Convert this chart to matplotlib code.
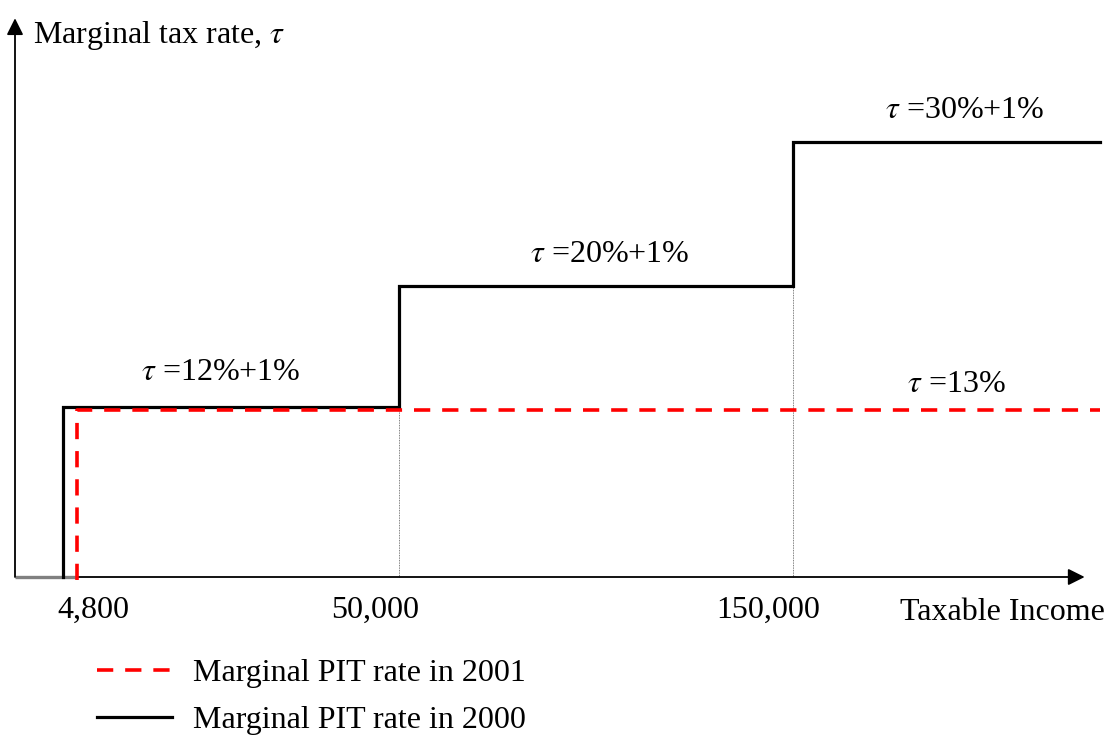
import numpy as np
import matplotlib
matplotlib.use("Agg")
import matplotlib.pyplot as plt
import matplotlib.transforms as mtransforms

plt.rcParams['font.family'] = ['Liberation Serif', 'DejaVu Serif']
plt.rcParams['mathtext.fontset'] = 'stix'

# schedule of 2000: thresholds (income) and marginal rates (%)
income_2000 = [4800, 4800, 50000, 50000, 150000, 150000, 250000]
rate_2000 = [0, 13, 13, 21, 21, 31, 31]
# flat schedule of 2001
income_2001 = [6700, 6700, 250000]
rate_2001 = [0, 13, 13]
tick_income = [4800, 50000, 150000]
tick_labels = ['4,800', '50,000', '150,000']
rate_labels = [r'$\tau$ =12%+1%', r'$\tau$ =20%+1%', r'$\tau$ =30%+1%', r'$\tau$ =13%']

# schematic (non-linear) axis scales of the sketch
inc_knots = [-3000, 0, 4800, 50000, 150000, 250000, 262000]
inc_pos = [0, 15, 63, 399, 793, 1100, 1112]
rate_knots = [-5, 0, 13, 21, 31, 45]
rate_pos = [0, 161, 331, 452, 596, 738]


def fwd_x(v):
    return np.interp(v, inc_knots, inc_pos)


def inv_x(v):
    return np.interp(v, inc_pos, inc_knots)


def fwd_y(v):
    return np.interp(v, rate_knots, rate_pos)


def inv_y(v):
    return np.interp(v, rate_pos, rate_knots)


fig = plt.figure(figsize=(11.12, 7.38), dpi=100)
ax = fig.add_axes([0, 0, 1, 1])
ax.set_xscale('function', functions=(fwd_x, inv_x))
ax.set_yscale('function', functions=(fwd_y, inv_y))
ax.set_xlim(-3000, 262000)
ax.set_ylim(-5, 45)
ax.axis('off')

# axes arrows
ax.annotate('', xy=(0, 43.2), xytext=(0, 0),
            arrowprops=dict(arrowstyle='-|>', color='black', lw=1.3,
                            mutation_scale=25, shrinkA=0, shrinkB=0))
ax.annotate('', xy=(245000, 0), xytext=(6700, 0),
            arrowprops=dict(arrowstyle='-|>', color='black', lw=1.3,
                            mutation_scale=25, shrinkA=0, shrinkB=0))
ax.plot([0, 6700], [0, 0], color='gray', lw=2.4, solid_capstyle='butt')

# thin guides at thresholds
ax.plot([50000, 50000], [0, 13], color='#555555', lw=0.6, ls=(0, (1, 1)))
ax.plot([150000, 150000], [0, 21], color='#555555', lw=0.6, ls=(0, (1, 1)))

# step lines
ax.plot(income_2000, rate_2000, color='black', lw=2.3,
        solid_joinstyle='miter', label='Marginal PIT rate in 2000', zorder=3)
shift = mtransforms.ScaledTranslation(0, -2.5 / 100, fig.dpi_scale_trans)
ax.plot(income_2001, rate_2001, color='red', lw=2.6, dashes=(4.5, 3.3),
        transform=ax.transData + shift, label='Marginal PIT rate in 2001', zorder=4)

# labels
fs = 23
ax.text(33 / 1112, 1 - 36 / 738, r'Marginal tax rate, $\tau$', transform=ax.transAxes,
        fontsize=fs, ha='left', va='center')
ax.text(1105 / 1112, 1 - 612 / 738, 'Taxable Income', transform=ax.transAxes,
        fontsize=fs, ha='right', va='center')
tick_px = [93, 375, 768]
for lab, px in zip(tick_labels, tick_px):
    ax.text(px / 1112, 1 - 610 / 738, lab, transform=ax.transAxes,
            fontsize=fs, ha='center', va='center')
label_px = [(221, 373), (610, 255), (965, 111), (956, 385)]
for lab, (px, py) in zip(rate_labels, label_px):
    ax.text(px / 1112, 1 - py / 738, lab, transform=ax.transAxes,
            fontsize=fs, ha='center', va='center')

handles, labels = ax.get_legend_handles_labels()
ax.legend(handles[::-1], labels[::-1], loc='upper left',
          bbox_to_anchor=(97 / 1112, 1 - 659 / 738), frameon=False,
          fontsize=fs, handlelength=2.35, handletextpad=0.65, labelspacing=0.55,
          borderpad=0, borderaxespad=0)

fig.savefig('out.png', dpi=100)
